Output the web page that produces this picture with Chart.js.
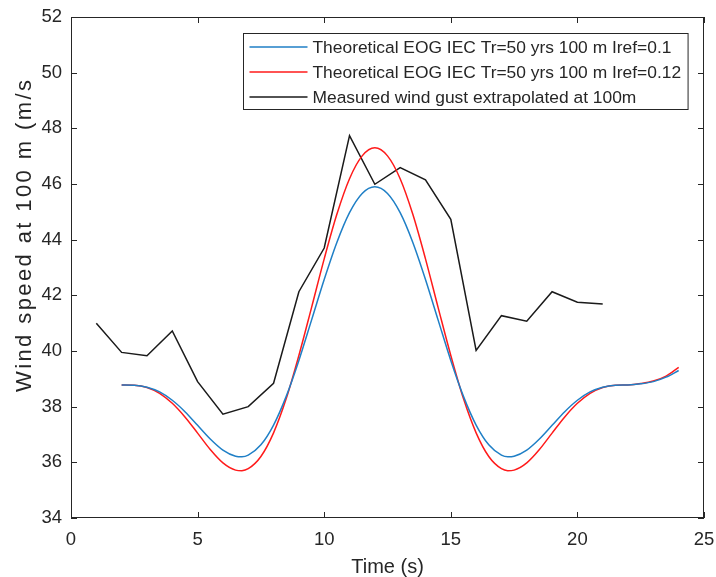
<!DOCTYPE html>
<html>
<head>
<meta charset="utf-8">
<script src="https://cdn.jsdelivr.net/npm/chart.js@4.4.1/dist/chart.umd.min.js"></script>
<style>
  html, body { margin: 0; padding: 0; background: #fff; }
  canvas { display: block; }
</style>
</head>
<body>
<canvas id="gustChart" width="716" height="577"></canvas>
<script>
// time axis (s) for the theoretical EOG curves
const timeTheory = [2, 2.5, 3, 3.5, 4, 4.5, 5, 5.5, 6, 6.5, 6.75, 7, 7.5, 8, 8.5, 9, 9.5, 10, 10.5, 11, 11.5, 12,
  12.5, 13, 13.5, 14, 14.5, 15, 15.5, 16, 16.5, 17, 17.25, 17.5, 18, 18.5, 19, 19.5, 20, 20.5, 21, 21.5, 22, 22.5, 23, 23.5, 24];
const eogIref010 = [38.78, 38.77, 38.70, 38.53, 38.23, 37.82, 37.33, 36.84, 36.44, 36.22, 36.20, 36.26, 36.63, 37.34, 38.37, 39.66, 41.11, 42.57, 43.90, 44.97, 45.66, 45.90,
  45.66, 44.97, 43.90, 42.57, 41.11, 39.66, 38.37, 37.34, 36.63, 36.26, 36.20, 36.22, 36.44, 36.84, 37.33, 37.82, 38.23, 38.53, 38.70, 38.77, 38.78, 38.82, 38.90, 39.06, 39.30];
const eogIref012 = [38.78, 38.77, 38.69, 38.48, 38.12, 37.63, 37.05, 36.46, 35.98, 35.72, 35.70, 35.77, 36.21, 37.06, 38.29, 39.84, 41.56, 43.31, 44.91, 46.19, 47.01, 47.30,
  47.01, 46.19, 44.91, 43.31, 41.56, 39.84, 38.29, 37.06, 36.21, 35.77, 35.70, 35.72, 35.98, 36.46, 37.05, 37.63, 38.12, 38.48, 38.69, 38.77, 38.78, 38.83, 38.92, 39.10, 39.41];

// measured gust, one value per second
const timeMeasured = [1, 2, 3, 4, 5, 6, 7, 8, 9, 10, 11, 12, 13, 14, 15, 16, 17, 18, 19, 20, 21];
const measuredGust = [41.00, 39.95, 39.83, 40.72, 38.90, 37.73, 38.00, 38.84, 42.13, 43.70, 47.74, 45.99, 46.59, 46.15, 44.73, 40.02, 41.27, 41.07, 42.13, 41.75, 41.69];

const seriesLabels = [
  "Theoretical EOG IEC Tr=50 yrs 100 m Iref=0.1",
  "Theoretical EOG IEC Tr=50 yrs 100 m Iref=0.12",
  "Measured wind gust extrapolated at 100m"
];
const xTickValues = [0, 5, 10, 15, 20, 25];
const yTickValues = [34, 36, 38, 40, 42, 44, 46, 48, 50, 52];

const axisColor = "#262626";
const fontFamily = "'Liberation Sans', Arial, sans-serif";

function toPoints(xs, ys) {
  return xs.map((x, i) => ({ x: x, y: ys[i] }));
}

// box frame with inward ticks, legend and rotated y label
const matlabLook = {
  id: "matlabLook",
  afterDraw(chart) {
    const ctx = chart.ctx;
    const a = chart.chartArea;
    const xs = chart.scales.x;
    const ys = chart.scales.y;
    const tick = 6;

    ctx.save();
    ctx.strokeStyle = axisColor;
    ctx.lineWidth = 1;
    ctx.strokeRect(a.left + 0.5, a.top + 0.5, a.right - a.left - 1, a.bottom - a.top - 1);
    ctx.beginPath();
    xTickValues.forEach(v => {
      const px = Math.round(xs.getPixelForValue(v)) + 0.5;
      ctx.moveTo(px, a.bottom); ctx.lineTo(px, a.bottom - tick);
      ctx.moveTo(px, a.top); ctx.lineTo(px, a.top + tick);
    });
    yTickValues.forEach(v => {
      const py = Math.round(ys.getPixelForValue(v)) + 0.5;
      ctx.moveTo(a.left, py); ctx.lineTo(a.left + tick, py);
      ctx.moveTo(a.right, py); ctx.lineTo(a.right - tick, py);
    });
    ctx.stroke();

    // legend
    ctx.font = "17.4px " + fontFamily;
    const widths = chart.data.datasets.map(d => ctx.measureText(d.label).width);
    const boxW = 69 + Math.max(...widths) + 7;
    const boxH = 76;
    const bx = Math.round(a.right - 16 - boxW) + 0.5;
    const by = Math.round(a.top + 16) + 0.5;
    ctx.fillStyle = "#fff";
    ctx.fillRect(bx, by, boxW, boxH);
    ctx.strokeStyle = axisColor;
    ctx.strokeRect(bx, by, boxW, boxH);
    chart.data.datasets.forEach((d, i) => {
      const ry = by + 13.5 + i * 25;
      ctx.beginPath();
      ctx.strokeStyle = d.borderColor;
      ctx.lineWidth = 1.5;
      ctx.moveTo(bx + 6, ry);
      ctx.lineTo(bx + 64, ry);
      ctx.stroke();
      ctx.fillStyle = axisColor;
      ctx.textAlign = "left";
      ctx.textBaseline = "middle";
      ctx.fillText(d.label, bx + 69, ry + 1);
    });

    // y axis title
    ctx.translate(31, 392);
    ctx.rotate(-Math.PI / 2);
    ctx.font = "22px " + fontFamily;
    ctx.letterSpacing = "2.4px";
    ctx.fillStyle = axisColor;
    ctx.textAlign = "left";
    ctx.textBaseline = "alphabetic";
    ctx.fillText("Wind speed at 100 m (m/s", 0, 0);
    ctx.restore();
  }
};

new Chart(document.getElementById("gustChart").getContext("2d"), {
  type: "line",
  data: {
    datasets: [
      {
        label: seriesLabels[0],
        data: toPoints(timeTheory, eogIref010),
        borderColor: "#1f7fc6",
        borderWidth: 1.5,
        pointRadius: 0,
        cubicInterpolationMode: "monotone",
        fill: false
      },
      {
        label: seriesLabels[1],
        data: toPoints(timeTheory, eogIref012),
        borderColor: "#ff1a1a",
        borderWidth: 1.5,
        pointRadius: 0,
        cubicInterpolationMode: "monotone",
        fill: false
      },
      {
        label: seriesLabels[2],
        data: toPoints(timeMeasured, measuredGust),
        borderColor: "#1a1a1a",
        borderWidth: 1.5,
        pointRadius: 0,
        tension: 0,
        fill: false
      }
    ]
  },
  options: {
    responsive: false,
    devicePixelRatio: 1,
    animation: false,
    layout: { padding: { top: 17, right: 12, left: 0, bottom: 0 } },
    plugins: {
      legend: { display: false },
      tooltip: { enabled: false }
    },
    scales: {
      x: {
        type: "linear",
        min: 0,
        max: 25,
        grid: { display: false, drawTicks: false },
        border: { display: false },
        ticks: {
          color: axisColor,
          font: { family: fontFamily, size: 18.5 },
          padding: 11,
          maxRotation: 0,
          autoSkip: false
        },
        title: {
          display: true,
          text: "Time (s)",
          color: axisColor,
          font: { family: fontFamily, size: 20 },
          padding: { top: 0, bottom: -2 }
        },
        afterBuildTicks: s => { s.ticks = xTickValues.map(v => ({ value: v })); },
        afterFit: s => {
          s.height = 59;
          s.paddingLeft = 0;
          s.paddingRight = 0;
        }
      },
      y: {
        min: 34,
        max: 52,
        grid: { display: false, drawTicks: false },
        border: { display: false },
        ticks: {
          color: axisColor,
          font: { family: fontFamily, size: 18.5 },
          padding: 9,
          autoSkip: false
        },
        afterBuildTicks: s => { s.ticks = yTickValues.map(v => ({ value: v })); },
        afterFit: s => {
          s.width = 71;
          s.paddingTop = 0;
          s.paddingBottom = 0;
        }
      }
    }
  },
  plugins: [matlabLook]
});
</script>
</body>
</html>
